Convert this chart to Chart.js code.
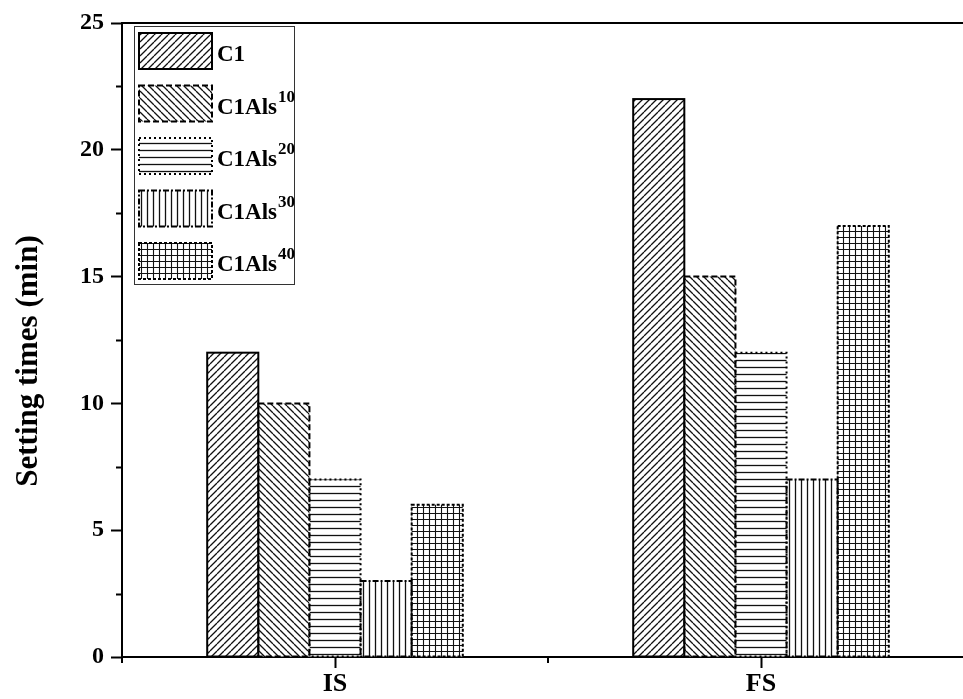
<!DOCTYPE html>
<html>
<head>
<meta charset="utf-8">
<script src="https://cdn.jsdelivr.net/npm/chart.js@4/dist/chart.umd.min.js"></script>
<style>
  html, body { margin: 0; padding: 0; background: #fff; overflow: hidden; }
  #wrap { width: 963px; height: 699px; overflow: hidden; position: relative; }
  canvas { display: block; }
</style>
</head>
<body>
<div id="wrap"><canvas id="chart" width="985" height="699"></canvas></div>
<script>
// Setting times of the C1 series (minutes), initial (IS) and final (FS) set
const categories = ['IS', 'FS'];
const c1      = [12, 22];
const c1als10 = [10, 15];
const c1als20 = [7, 12];
const c1als30 = [3, 7];
const c1als40 = [6, 17];
const seriesBase = ['C1', 'C1Als', 'C1Als', 'C1Als', 'C1Als'];
const seriesSup  = ['', '10', '20', '30', '40'];
const yTicks = [0, 5, 10, 15, 20, 25];
const yTitle = 'Setting times (min)';

const SERIF = '"Liberation Serif", "Times New Roman", serif';

// --- hatch fills -------------------------------------------------------
function tile(w, h, draw) {
  const c = document.createElement('canvas');
  c.width = w; c.height = h;
  const g = c.getContext('2d');
  g.fillStyle = '#fff';
  g.fillRect(0, 0, w, h);
  g.strokeStyle = '#111';
  g.lineWidth = 1.3;
  draw(g, w, h);
  return document.getElementById('chart').getContext('2d').createPattern(c, 'repeat');
}
const hatch = [
  tile(7, 7, (g, s) => { g.beginPath(); for (const k of [-s, 0, s]) { g.moveTo(k, s); g.lineTo(k + s, 0); } g.stroke(); }),
  tile(7, 7, (g, s) => { g.beginPath(); for (const k of [-s, 0, s]) { g.moveTo(k, 0); g.lineTo(k + s, s); } g.stroke(); }),
  tile(8, 7, (g, w, h) => { g.beginPath(); g.moveTo(0, 3.5); g.lineTo(w, 3.5); g.stroke(); }),
  tile(6, 8, (g, w, h) => { g.beginPath(); g.moveTo(3.5, 0); g.lineTo(3.5, h); g.stroke(); }),
  tile(6, 6, (g, w, h) => { g.lineWidth = 1.1; g.beginPath(); g.moveTo(0, 3.5); g.lineTo(w, 3.5); g.moveTo(3.5, 0); g.lineTo(3.5, h); g.stroke(); })
];
const dashes = [[], [6, 3], [2, 3], [6, 2, 2, 2], [3, 2]];

// --- outlines of bars (dashed per series) ------------------------------
const barOutline = {
  id: 'barOutline',
  afterDatasetsDraw(chart) {
    const ctx = chart.ctx;
    chart.data.datasets.forEach((ds, i) => {
      const meta = chart.getDatasetMeta(i);
      meta.data.forEach(bar => {
        const p = bar.getProps(['x', 'y', 'base', 'width'], true);
        ctx.save();
        ctx.strokeStyle = '#000';
        ctx.lineWidth = 2;
        ctx.setLineDash(dashes[i]);
        ctx.strokeRect(p.x - p.width / 2, p.y, p.width, p.base - p.y);
        ctx.restore();
      });
    });
  }
};

// --- frame, minor ticks, axis title, legend ----------------------------
const decor = {
  id: 'decor',
  afterDraw(chart) {
    const ctx = chart.ctx;
    const a = chart.chartArea;
    const ys = chart.scales.y, xs = chart.scales.x;
    ctx.save();
    ctx.strokeStyle = '#000';
    ctx.lineWidth = 2;
    ctx.beginPath();
    ctx.moveTo(a.left - 1, a.top); ctx.lineTo(a.right, a.top); ctx.lineTo(a.right, a.bottom);
    ctx.stroke();

    // minor ticks
    ctx.beginPath();
    for (let v = 2.5; v < 25; v += 5) {
      const py = Math.round(ys.getPixelForValue(v)) + 0.5;
      ctx.moveTo(a.left - 6, py); ctx.lineTo(a.left, py);
    }
    const p0 = xs.getPixelForValue(0), p1 = xs.getPixelForValue(1);
    const step = p1 - p0;
    for (let k = 0; k <= categories.length; k++) {
      const px = p0 - step / 2 + k * step;
      ctx.moveTo(px, a.bottom); ctx.lineTo(px, a.bottom + 6);
    }
    ctx.stroke();

    // y-axis title
    ctx.save();
    ctx.translate(29, 361);
    ctx.rotate(-Math.PI / 2);
    ctx.fillStyle = '#000';
    ctx.font = 'bold 31px ' + SERIF;
    ctx.textAlign = 'center';
    ctx.textBaseline = 'middle';
    ctx.fillText(yTitle, 0, 0);
    ctx.restore();

    // legend
    const lx = 134, ly = 26, lw = 160, lh = 258;
    ctx.lineWidth = 1;
    ctx.strokeStyle = '#333';
    ctx.strokeRect(lx + 0.5, ly + 0.5, lw, lh);
    chart.data.datasets.forEach((ds, i) => {
      const sy = 33 + i * 52.5;
      ctx.fillStyle = hatch[i];
      ctx.fillRect(139, sy, 73, 36);
      ctx.save();
      ctx.strokeStyle = '#000';
      ctx.lineWidth = 2;
      ctx.setLineDash(dashes[i]);
      ctx.strokeRect(139, sy, 73, 36);
      ctx.restore();
      ctx.fillStyle = '#000';
      ctx.textAlign = 'left';
      ctx.textBaseline = 'alphabetic';
      ctx.font = 'bold 23px ' + SERIF;
      const base = sy + 28;
      ctx.fillText(seriesBase[i], 217, base);
      if (seriesSup[i]) {
        const w = ctx.measureText(seriesBase[i]).width;
        ctx.font = 'bold 17px ' + SERIF;
        ctx.fillText(seriesSup[i], 217 + w + 1, base - 12);
      }
    });
    ctx.restore();
  }
};

new Chart(document.getElementById('chart'), {
  type: 'bar',
  data: {
    labels: categories,
    datasets: [c1, c1als10, c1als20, c1als30, c1als40].map((vals, i) => ({
      label: seriesBase[i] + seriesSup[i],
      data: vals,
      backgroundColor: hatch[i],
      borderWidth: 0,
      categoryPercentage: 0.6,
      barPercentage: 1.0
    }))
  },
  options: {
    responsive: false,
    animation: false,
    layout: { padding: { top: 23, right: 11, left: 0, bottom: 0 } },
    plugins: { legend: { display: false }, tooltip: { enabled: false } },
    scales: {
      x: {
        offset: true,
        grid: { offset: false, drawOnChartArea: false, drawTicks: true, tickLength: 11, tickWidth: 2, tickColor: '#000' },
        border: { display: true, color: '#000', width: 2 },
        ticks: { color: '#000', font: { family: SERIF, weight: 'bold', size: 26 }, padding: 1 },
        afterFit(s) { s.height = 42; }
      },
      y: {
        min: 0, max: 25,
        afterBuildTicks(s) { s.ticks = yTicks.map(v => ({ value: v })); },
        grid: { drawOnChartArea: false, drawTicks: true, tickLength: 11, tickWidth: 2, tickColor: '#000' },
        border: { display: true, color: '#000', width: 2 },
        ticks: { color: '#000', font: { family: SERIF, weight: 'bold', size: 24 }, padding: 7 },
        afterFit(s) { s.width = 122; }
      }
    }
  },
  plugins: [barOutline, decor]
});
</script>
</body>
</html>
